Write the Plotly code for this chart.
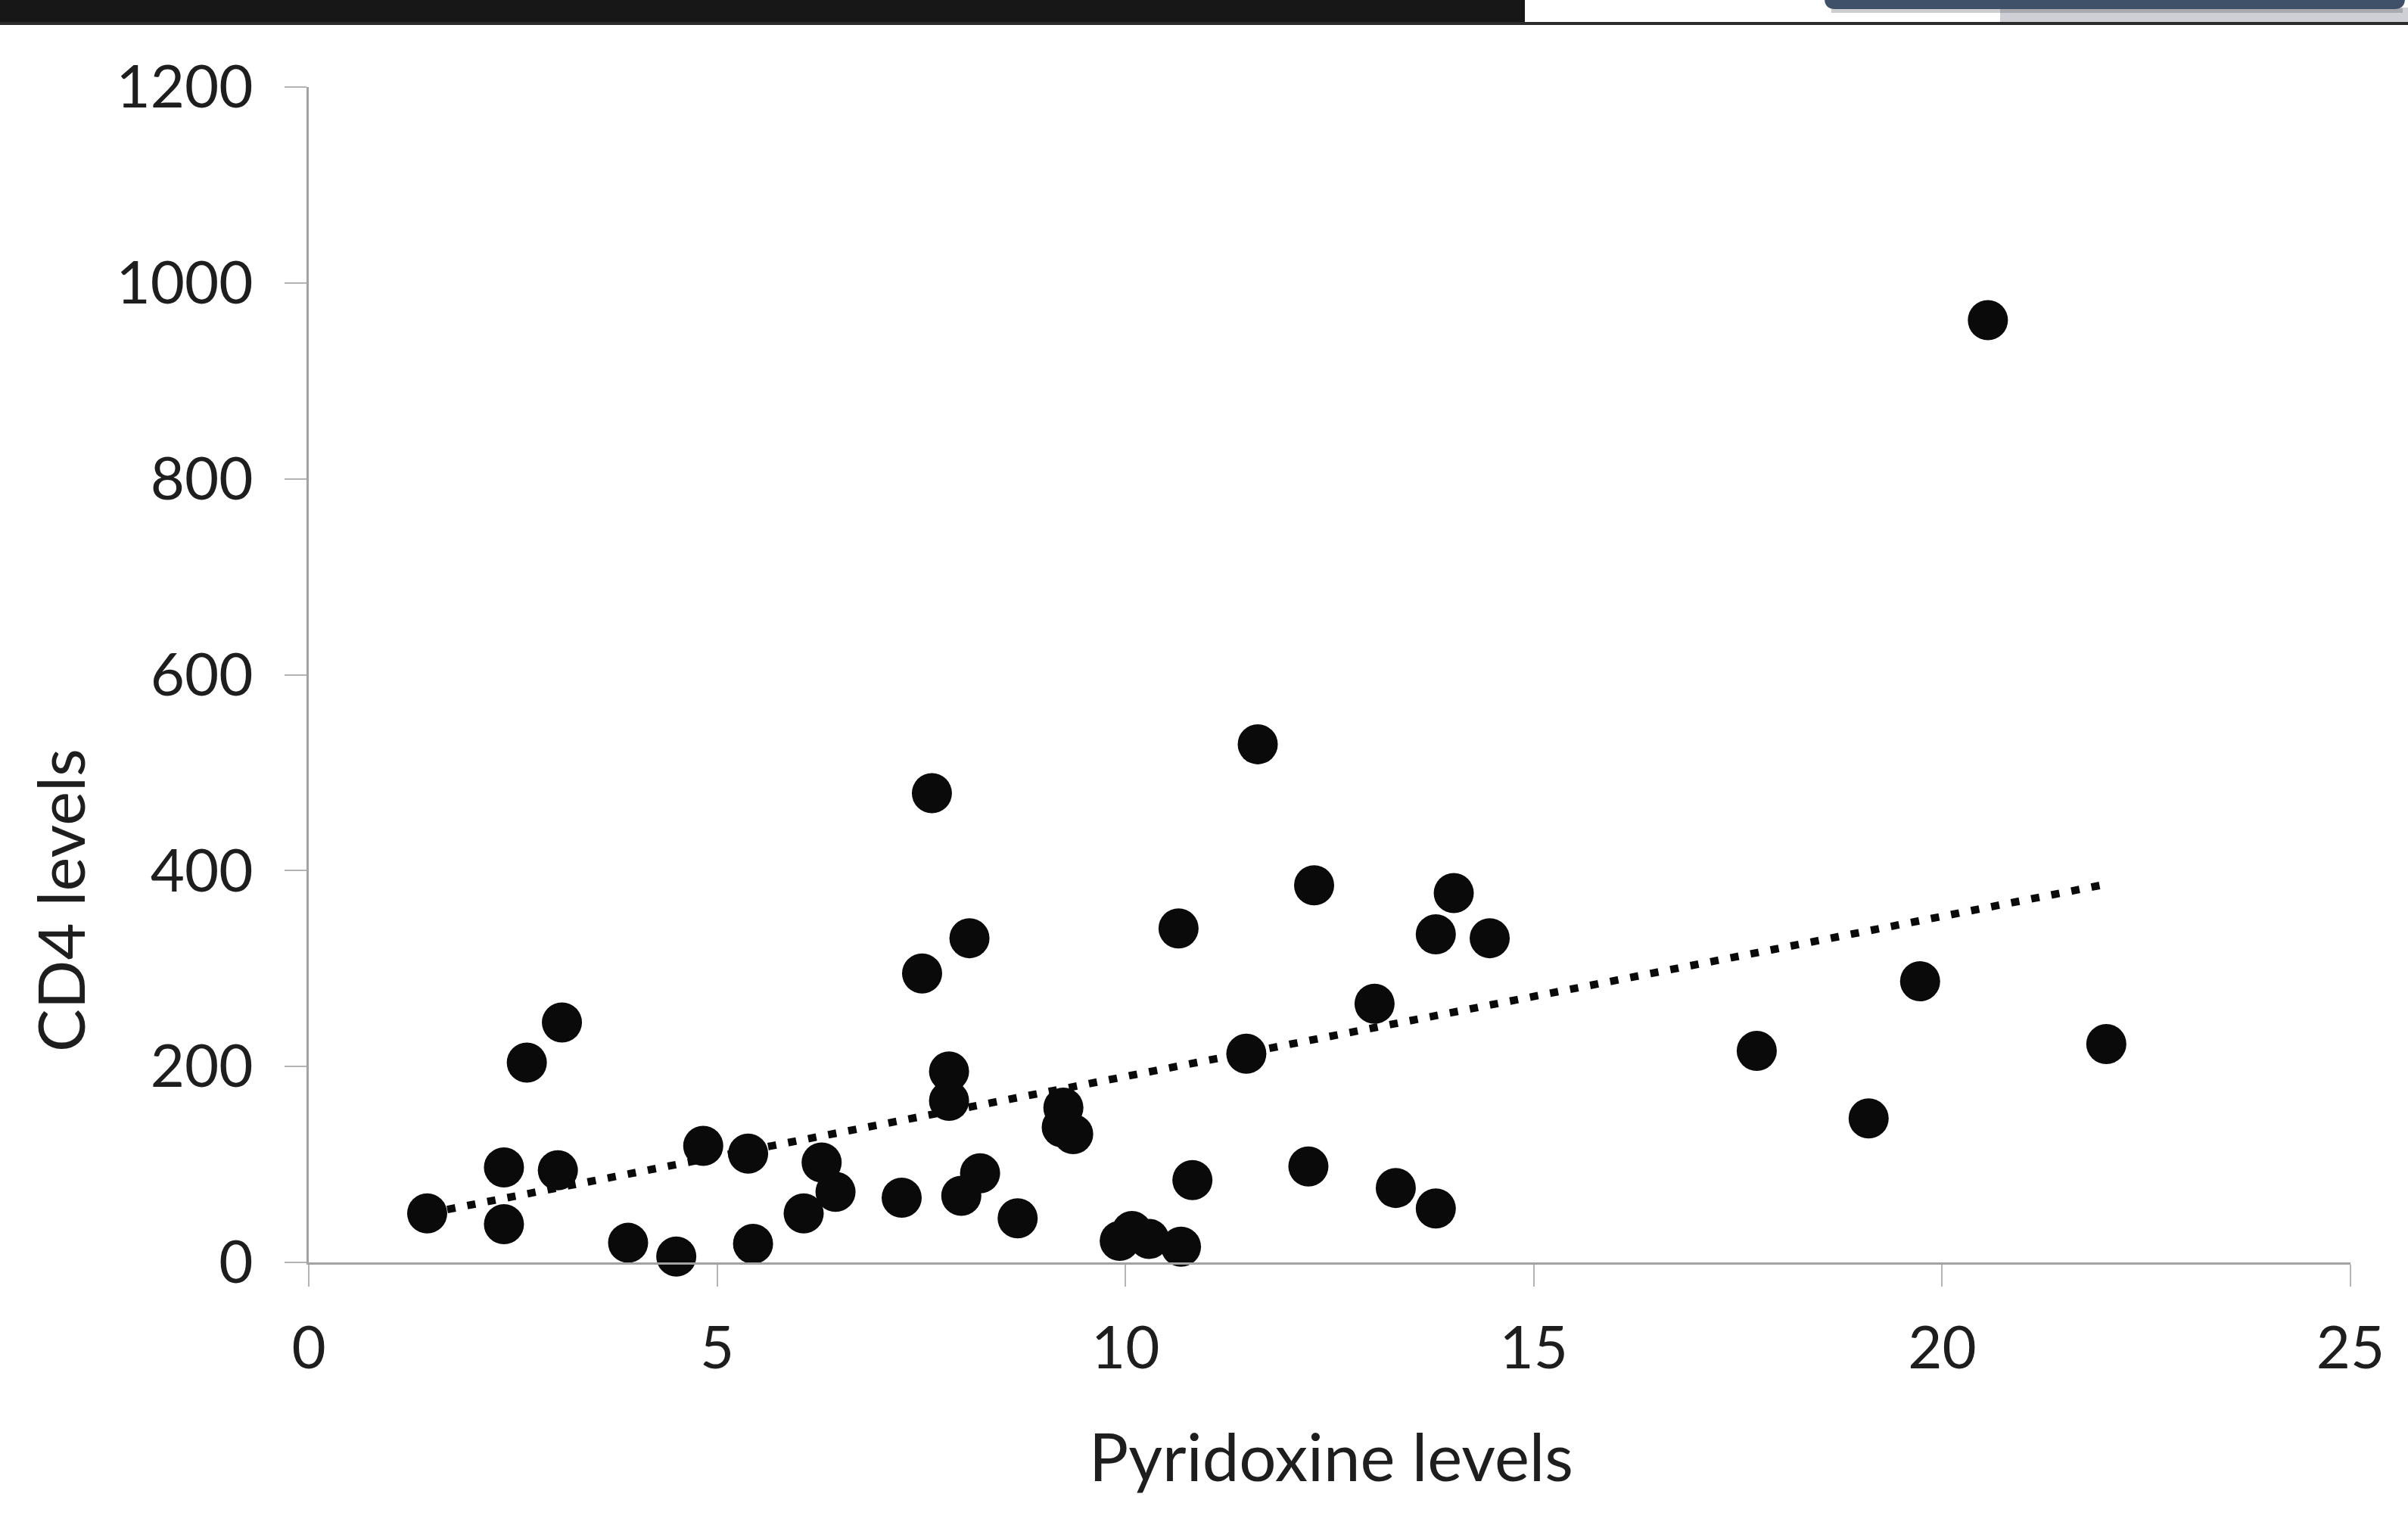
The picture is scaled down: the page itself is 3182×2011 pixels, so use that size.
import plotly.graph_objects as go

# ---- data ----
pyridoxine = [1.45, 2.39, 2.39, 2.67, 3.10, 3.05, 3.91, 4.50, 4.83, 5.38,
              5.44, 6.06, 6.28, 6.45, 7.26, 7.51, 7.63, 7.84, 7.84, 7.99,
              8.09, 8.22, 8.68, 9.24, 9.22, 9.36, 9.93, 10.08, 10.29, 10.68,
              10.65, 10.82, 11.48, 11.62, 12.24, 12.31, 13.05, 13.31, 13.80, 13.80,
              14.02, 14.46, 17.73, 19.10, 19.73, 20.56, 22.01]
cd4 = [50, 97, 39, 204, 245, 94, 20, 6, 119, 111,
       19, 50, 102, 72, 66, 295, 479, 195, 165, 68,
       331, 91, 45, 158, 138, 131, 22, 32, 24, 16,
       341, 84, 213, 529, 98, 385, 264, 76, 335, 55,
       377, 331, 216, 147, 287, 962, 223]

trend_x = [1.45, 22.0]
trend_y = [50, 386]

x_ticks = [0, 5, 10, 15, 20, 25]
y_ticks = [0, 200, 400, 600, 800, 1000, 1200]

x_title = "Pyridoxine levels"
y_title = "CD4 levels"

# ---- layout geometry (pixels) ----
W, H = 3182, 2011
L, R, T, B = 408, 76, 115, 343
PW, PH = W - L - R, H - T - B


def fx(px):
    return (px - L) / PW


def fy(py):
    return (H - B - py) / PH


FONT = "Lato, 'Open Sans', sans-serif"
TXT = "#1e1e1e"
AX = "#a3a3a3"

fig = go.Figure()
fig.add_trace(go.Scatter(
    x=trend_x, y=trend_y, mode="lines",
    line=dict(color="#0a0a0a", width=10, dash="11px,16px"),
    hoverinfo="skip", showlegend=False, cliponaxis=False))
fig.add_trace(go.Scatter(
    x=pyridoxine, y=cd4, mode="markers",
    marker=dict(color="#0a0a0a", size=53, line=dict(width=0)),
    showlegend=False, cliponaxis=False))

axis_common = dict(
    showline=True, linecolor=AX, linewidth=3, showgrid=False, zeroline=False,
    ticks="outside", ticklen=29, tickwidth=2, tickcolor="#b4b4b4",
    tickfont=dict(family=FONT, size=78, color=TXT),
)
fig.update_xaxes(range=[0, 25], tickvals=x_ticks, ticklabelstandoff=14, **axis_common)
fig.update_yaxes(range=[0, 1200], tickvals=y_ticks, ticklabelstandoff=26, **axis_common)

# top screenshot bar
shapes = [
    dict(type="rect", x0=fx(0), x1=fx(2015), y0=fy(0), y1=fy(30),
         fillcolor="#171717", line=dict(width=0)),
    dict(type="rect", x0=fx(2643), x1=fx(W), y0=fy(10), y1=fy(29),
         fillcolor="#cfd0d5", line=dict(width=0)),
    dict(type="rect", x0=fx(2420), x1=fx(3175), y0=fy(11), y1=fy(17),
         fillcolor="rgba(60,60,70,0.25)", line=dict(width=0)),
    dict(type="rect", x0=fx(0), x1=fx(W), y0=fy(29), y1=fy(33),
         fillcolor="#2b2b2b", line=dict(width=0)),
]
# rounded blue-grey tab
x0, x1, y0, y1, r = 2411, 3178, -5, 12, 14
path = (f"M {fx(x0)},{fy(y0)} L {fx(x0)},{fy(y1 - r)} "
        f"Q {fx(x0)},{fy(y1)} {fx(x0 + r)},{fy(y1)} "
        f"L {fx(x1 - r)},{fy(y1)} Q {fx(x1)},{fy(y1)} {fx(x1)},{fy(y1 - r)} "
        f"L {fx(x1)},{fy(y0)} Z")
shapes.append(dict(type="path", path=path, fillcolor="#3f5069", line=dict(width=0)))
for s in shapes:
    s.update(xref="paper", yref="paper", layer="above")

fig.update_layout(
    width=W, height=H, autosize=False,
    margin=dict(l=L, r=R, t=T, b=B, pad=0),
    paper_bgcolor="white", plot_bgcolor="white",
    font=dict(family=FONT, color=TXT),
    shapes=shapes,
    annotations=[
        dict(text=x_title, x=fx(1759), y=fy(1923), xref="paper", yref="paper",
             showarrow=False, xanchor="center", yanchor="middle",
             font=dict(family=FONT, size=87, color=TXT)),
        dict(text=y_title, x=fx(79), y=fy(1190), xref="paper", yref="paper",
             showarrow=False, xanchor="center", yanchor="middle", textangle=-90,
             font=dict(family=FONT, size=85, color=TXT)),
    ],
)

fig.write_html("out.html",
               config={"displayModeBar": False},
               post_script="document.body.style.margin='0px';document.body.style.overflow='hidden';")
